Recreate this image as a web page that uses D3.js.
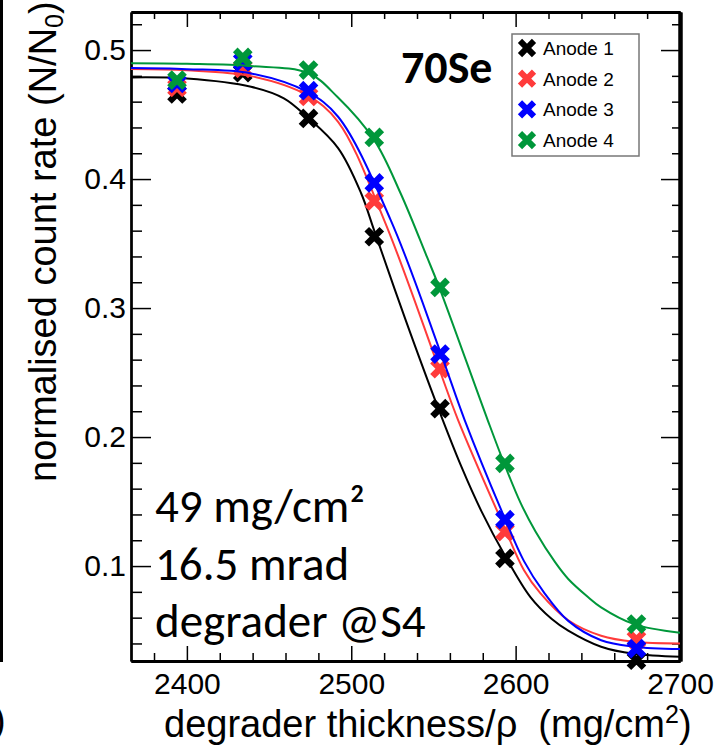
<!DOCTYPE html>
<html>
<head>
<meta charset="utf-8">
<script src="https://cdn.jsdelivr.net/npm/d3@7"></script>
<style>
  body { margin: 0; background: #fff; }
  svg { display: block; }
</style>
</head>
<body>
<script>
// measured points (degrader thickness, normalised rate)
var thickness = [2394, 2434, 2474, 2514, 2554, 2593.5, 2673.5];
var anode1 = [0.466, 0.4824, 0.447, 0.3553, 0.222, 0.106, 0.027];
var anode2 = [0.471, 0.4858, 0.464, 0.383, 0.253, 0.1266, 0.043];
var anode3 = [0.4742, 0.491, 0.4685, 0.397, 0.2643, 0.136, 0.036];
var anode4 = [0.4767, 0.4943, 0.4845, 0.4323, 0.316, 0.1796, 0.055];

// fit curves [x, y]
var fit1 = [[2366,0.4788],[2400,0.478],[2439,0.4716],[2459,0.4626],[2473,0.4483],[2492,0.424],[2506,0.389],[2514,0.36],[2533,0.291],[2553,0.222],[2567,0.177],[2579,0.143],[2594,0.107],[2609,0.076],[2622,0.059],[2632,0.05],[2652,0.0375],[2672,0.032],[2700,0.0297]];
var fit2 = [[2366,0.4853],[2400,0.4843],[2439,0.4798],[2473,0.4651],[2492,0.4444],[2520,0.3682],[2553,0.2545],[2565,0.2132],[2593,0.1305],[2605,0.097],[2615,0.079],[2632,0.058],[2652,0.046],[2672,0.0413],[2700,0.04]];
var fit3 = [[2366,0.486],[2400,0.4852],[2439,0.4819],[2473,0.4677],[2492,0.4483],[2524,0.3682],[2554.5,0.2649],[2569,0.2132],[2593,0.1382],[2605,0.104],[2617,0.08],[2632,0.0575],[2652,0.0425],[2672,0.0375],[2700,0.0357]];
var fit4 = [[2366,0.4897],[2400,0.4893],[2439,0.4876],[2474,0.482],[2491.5,0.4638],[2514,0.4302],[2530,0.389],[2546,0.3398],[2553.4,0.3165],[2583,0.2132],[2593,0.1796],[2603,0.149],[2612,0.127],[2624,0.103],[2632,0.09],[2644,0.076],[2652,0.068],[2672,0.055],[2700,0.0483]];

var names = ["Anode 1", "Anode 2", "Anode 3", "Anode 4"];
var colors = ["#000000", "#ff3b3b", "#0000ff", "#00973a"];

var xMajor = [2400, 2500, 2600, 2700];
var yMajor = [0.1, 0.2, 0.3, 0.4, 0.5];

var notes = ["49 mg/cm\u00b2", "16.5 mrad", "degrader @S4"];

var width = 715, height = 746;
var frame = { left: 131, right: 680, top: 12, bottom: 661 };

var svg = d3.select("body").append("svg")
    .attr("width", width)
    .attr("height", height);

var x = d3.scaleLinear().domain([2366, 2700]).range([frame.left, frame.right]);
var y = d3.scaleLinear().domain([0.0264, 0.5295]).range([frame.bottom, frame.top]);

var xMinor = d3.range(2380, 2701, 20).filter(d => d % 100 != 0);
var yMinor = d3.range(4, 53, 2).map(d => d / 100).filter(d => Math.round(d * 100) % 10 != 0);

var font = "'Liberation Sans', Arial, sans-serif";
var slideFont = "Carlito, Calibri, Lato, sans-serif";

// stray edge of the neighbouring panel
svg.append("line")
    .attr("x1", 1.5).attr("x2", 1.5).attr("y1", 0).attr("y2", 662)
    .attr("stroke", "#000").attr("stroke-width", 3);
svg.append("text")
    .attr("x", -7).attr("y", 733)
    .style("font-family", font).style("font-size", "38px")
    .text(")");

// axes, ticks pointing inwards like ROOT
function styleAxis(g, w) {
    g.select(".domain").attr("stroke", "#000").attr("stroke-width", w);
    g.selectAll(".tick line").attr("stroke", "#000").attr("stroke-width", 1.5);
    g.selectAll("text").style("font-family", font).style("font-size", "30px").attr("fill", "#000");
}

var gx = svg.append("g").attr("transform", "translate(0," + frame.bottom + ")")
    .call(d3.axisBottom(x).tickValues(xMajor).tickFormat(d3.format("d")).tickSize(-15).tickSizeOuter(0).tickPadding(12));
styleAxis(gx, 3);
svg.append("g").attr("transform", "translate(0," + frame.bottom + ")")
    .call(d3.axisBottom(x).tickValues(xMinor).tickFormat("").tickSize(-8).tickSizeOuter(0))
    .call(g => styleAxis(g, 3));

var gxt = svg.append("g").attr("transform", "translate(0," + frame.top + ")")
    .call(d3.axisTop(x).tickValues(xMajor).tickFormat("").tickSize(-15).tickSizeOuter(0));
styleAxis(gxt, 3);
svg.append("g").attr("transform", "translate(0," + frame.top + ")")
    .call(d3.axisTop(x).tickValues(xMinor).tickFormat("").tickSize(-7).tickSizeOuter(0))
    .call(g => styleAxis(g, 3));

var gy = svg.append("g").attr("transform", "translate(" + frame.left + ",0)")
    .call(d3.axisLeft(y).tickValues(yMajor).tickFormat(d3.format(".1f")).tickSize(-20).tickSizeOuter(0).tickPadding(5));
styleAxis(gy, 2.3);
svg.append("g").attr("transform", "translate(" + frame.left + ",0)")
    .call(d3.axisLeft(y).tickValues(yMinor).tickFormat("").tickSize(-11).tickSizeOuter(0))
    .call(g => styleAxis(g, 2.3));

var gyr = svg.append("g").attr("transform", "translate(" + frame.right + ",0)")
    .call(d3.axisRight(y).tickValues(yMajor).tickFormat("").tickSize(-19).tickSizeOuter(0));
styleAxis(gyr, 4);
svg.append("g").attr("transform", "translate(" + frame.right + ",0)")
    .call(d3.axisRight(y).tickValues(yMinor).tickFormat("").tickSize(-8).tickSizeOuter(0))
    .call(g => styleAxis(g, 4));

// axis titles
svg.append("text")
    .attr("x", 164).attr("y", 737)
    .style("font-family", font).style("font-size", "38px")
    .html("degrader thickness/\u03c1\u00a0\u00a0(mg/cm<tspan dy='-14' font-size='25'>2</tspan><tspan dy='14'>)</tspan>");

svg.append("text")
    .attr("transform", "translate(56,482) rotate(-90)")
    .style("font-family", font).style("font-size", "38px")
    .html("normalised count rate (N/N<tspan dy='7' font-size='25'>0</tspan><tspan dy='-7'>)</tspan>");

// fits and markers
svg.append("clipPath").attr("id", "frame")
    .append("rect")
    .attr("x", frame.left).attr("y", frame.top)
    .attr("width", frame.right - frame.left).attr("height", frame.bottom - frame.top);

var line = d3.line()
    .x(d => x(d[0]))
    .y(d => y(d[1]))
    .curve(d3.curveCatmullRom.alpha(0.5));

var fits = [fit1, fit2, fit3, fit4];
var series = [anode1, anode2, anode3, anode4];
var cross = d3.symbol(d3.symbolX, 150);

series.forEach(function(vals, i) {
    svg.append("path")
        .datum(fits[i])
        .attr("d", line)
        .attr("clip-path", "url(#frame)")
        .attr("fill", "none")
        .attr("stroke", colors[i])
        .attr("stroke-width", 2);

    svg.append("g").selectAll("path")
        .data(vals)
        .enter()
        .append("path")
        .attr("d", cross)
        .attr("transform", (d, j) => "translate(" + x(thickness[j]) + "," + y(d) + ")")
        .attr("fill", "none")
        .attr("stroke", colors[i])
        .attr("stroke-width", 6.5);
});

// legend
var legend = svg.append("g");
legend.append("rect")
    .attr("x", 512).attr("y", 34)
    .attr("width", 127).attr("height", 122)
    .attr("fill", "#fff")
    .attr("stroke", "#777")
    .attr("stroke-width", 1.5);

names.forEach(function(name, i) {
    var cy = 48 + i * 30.7;
    legend.append("path")
        .attr("d", d3.symbol(d3.symbolX, 130))
        .attr("transform", "translate(527," + cy + ")")
        .attr("fill", "none")
        .attr("stroke", colors[i])
        .attr("stroke-width", 6);
    legend.append("text")
        .attr("x", 543).attr("y", cy + 7)
        .style("font-family", font).style("font-size", "19px")
        .text(name);
});

// annotations
svg.append("text")
    .attr("x", 401).attr("y", 83)
    .style("font-family", slideFont)
    .style("font-weight", "bold").style("font-size", "46px")
    .text("70Se");

svg.append("g").selectAll("text")
    .data(notes)
    .enter()
    .append("text")
    .attr("x", 155)
    .attr("y", (d, i) => 522 + i * 57.5)
    .style("font-family", slideFont)
    .style("font-size", "47px")
    .text(d => d);
</script>
</body>
</html>
